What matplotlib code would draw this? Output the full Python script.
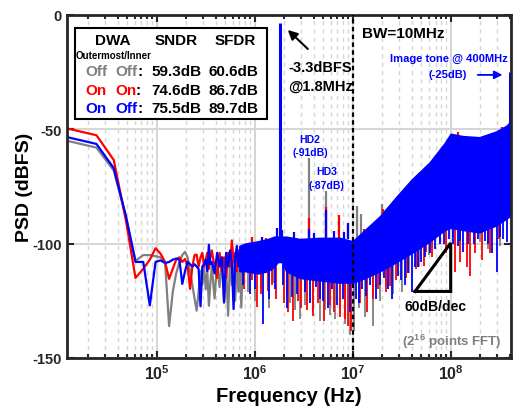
import matplotlib
matplotlib.use("Agg")
import matplotlib.pyplot as plt
from matplotlib.patches import Rectangle
from matplotlib.ticker import LogLocator, NullFormatter

plt.rcParams["font.family"] = ["Liberation Sans", "DejaVu Sans"]
plt.rcParams["font.weight"] = "bold"
plt.rcParams["mathtext.fontset"] = "custom"
plt.rcParams["mathtext.rm"] = "Liberation Sans:bold"
plt.rcParams["mathtext.it"] = "Liberation Sans:bold"
plt.rcParams["mathtext.bf"] = "Liberation Sans:bold"
plt.rcParams["mathtext.default"] = "rm"

GRAY, RED, BLUE = "#808080", "#ff0000", "#0000ff"

# low-frequency FFT bins (kHz), shared by the three traces
f_low_khz = [12.2, 24.4, 36.6, 48.8, 61.0, 73.2, 85.4, 97.7, 109.9, 122.1,
             134.3, 146.5, 158.7, 170.9, 183.1, 195.3, 207.5, 219.7, 231.9, 244.1,
             256.3, 268.6, 280.8, 293.0, 305.2, 317.4, 329.6, 341.8, 354.0, 366.2,
             390.6, 415.0, 439.5, 463.9, 488.3, 512.7, 537.1, 561.5, 585.9, 610.4,
             634.8, 659.2, 683.6, 708.0, 732.4, 756.8]
gray_low = [-55.0, -58.0, -68.0, -88.5, -107.5, -105.0, -105.0, -105.5, -106.0, -108.0,
            -136.0, -121.0, -113.0, -108.0, -105.0, -103.6, -106.0, -112.0, -118.0, -124.0,
            -129.3, -121.0, -112.0, -118.0, -110.0, -120.0, -112.0, -127.2, -117.0, -110.0,
            -124.0, -108.0, -119.0, -106.0, -126.0, -111.0, -131.5, -107.0, -118.0, -108.0,
            -125.0, -106.0, -121.0, -110.0, -128.0, -108.0]
red_low = [-49.6, -52.6, -63.4, -90.0, -115.0, -111.0, -107.0, -102.0, -104.4, -108.0,
           -115.4, -111.0, -107.0, -106.0, -108.0, -106.7, -110.0, -119.8, -110.0, -105.0,
           -104.8, -110.0, -106.0, -104.0, -110.0, -107.0, -104.0, -111.0, -106.0, -103.0,
           -110.0, -115.0, -104.0, -112.0, -106.0, -115.0, -104.0, -110.0, -98.6, -108.0,
           -104.0, -112.0, -103.0, -109.0, -105.0, -111.0]
blue_low = [-53.4, -56.4, -67.0, -88.0, -108.0, -108.0, -127.0, -108.0, -107.3, -108.5,
            -108.0, -107.0, -106.5, -107.0, -117.6, -112.0, -108.0, -109.0, -110.0, -109.0,
            -110.0, -111.0, -127.4, -110.0, -109.0, -107.0, -112.0, -100.5, -109.0, -108.0,
            -113.0, -104.0, -110.0, -106.0, -125.5, -104.0, -110.0, -103.0, -108.0, -128.6,
            -106.0, -101.0, -110.0, -104.0, -112.0, -103.0]

# dense noise floor above ~700 kHz (MHz, top / bottom of the solid blue band)
body_mhz = [0.70, 0.80, 1.08, 1.37, 1.58, 1.72, 1.90, 2.10, 2.9, 4.6, 7.4, 10,
            13.4, 19, 28, 40, 61, 87, 100, 133, 196, 290, 370, 400]
body_top = [-101, -100, -99, -98, -97, -97, -97, -97, -98, -97.5, -97.5, -99,
            -94, -88, -79.5, -72, -64.5, -56, -52, -53, -53.5, -51, -48.5, -47]
body_bot = [-112, -112, -113, -112, -110, -108, -108, -112, -115, -116, -117, -117,
            -115, -112, -108, -104, -99, -94, -93, -94, -95, -92, -89, -88]

# downward noise spikes (MHz, from dB, to dB)
gray_spk_mhz = [0.75, 0.85, 1.00, 1.15, 1.40, 1.55, 2.12, 2.3, 2.6, 2.9, 3.3, 3.9, 4.63, 5.2,
                5.9, 6.6, 7.5, 8.4, 9.3, 10.4, 11.5, 13.5, 16.2, 19, 22, 26, 31.5, 38, 48,
                60, 106, 197, 242, 320]
gray_spk_hi = [-108, -108, -108, -108, -108, -106, -108, -110, -110, -110, -110, -110, -110, -110,
               -110, -110, -110, -110, -110, -110, -110, -110, -108, -106, -104, -102, -100, -98, -96,
               -94, -90, -90, -90, -88]
gray_spk_lo = [-118, -121, -125, -119, -128, -117, -122.8, -126, -129, -133, -127, -130, -133.7, -129,
               -131, -133, -128, -135, -140, -138, -128, -132, -136, -125, -118, -122, -121, -113, -110,
               -105, -97, -99.4, -102.3, -101]

red_spk_mhz = [0.78, 0.93, 1.05, 1.15, 1.37, 1.5, 1.67, 2.0, 2.2, 2.47, 2.8, 3.0, 3.4, 3.96, 4.4,
               5.1, 5.85, 6.5, 7.5, 8.3, 9.0, 9.6, 11.8, 14, 16, 18.3, 22, 24, 28, 35, 44, 53, 56,
               65, 78, 90, 110, 124, 145, 157, 175, 210, 250, 310]
red_spk_hi = [-108, -108, -108, -108, -106, -106, -102, -104, -110, -110, -110, -110, -110, -110, -110,
              -110, -110, -110, -110, -110, -110, -110, -110, -110, -108, -106, -104, -104, -102, -100,
              -98, -96, -96, -94, -92, -90, -90, -90, -90, -90, -90, -90, -90, -88]
red_spk_lo = [-120, -116, -127.9, -122, -120.6, -118, -124, -126, -130, -133.7, -125, -128, -129,
              -131.5, -126, -134, -127, -130, -132, -133, -136, -138, -126, -130, -124, -119.8, -121,
              -118.4, -116, -115, -111, -109.7, -103.8, -106, -99.4, -104, -112.5, -108, -110, -114,
              -104, -107, -104, -98]

blue_spk_mhz = [0.76, 0.895, 1.0, 1.22, 1.4, 1.6, 1.96, 2.15, 2.38, 2.7, 3.3, 3.7, 4.2, 4.6, 5.0,
                5.6, 6.2, 7.0, 8.0, 9.4, 10.8, 11.5, 12.4, 13.8, 15.0, 17.3, 19, 20.9, 23, 25.2,
                29.0, 31, 34.2, 37, 40.3, 43, 46.4, 50, 54.7, 62, 69.2, 77, 85.5, 95, 105, 119,
                125, 134, 150, 173, 190, 224, 240, 264, 297, 320, 342, 376]
blue_spk_hi = [-108, -108, -108, -108, -108, -106, -104, -110, -110, -110, -110, -110, -110, -110,
               -110, -110, -110, -110, -110, -110, -110, -110, -110, -110, -108, -106, -106, -104,
               -104, -102, -100, -100, -98, -98, -96, -96, -94, -94, -92, -92, -90, -90, -90, -90,
               -90, -90, -90, -90, -90, -90, -90, -90, -90, -88, -88, -88, -86, -86]
blue_spk_lo = [-118, -122, -120, -135.2, -124, -120, -118, -128, -123.5, -122, -121, -126, -119,
               -124, -125, -128, -120, -127, -124, -130, -124, -126, -120, -123, -118, -124, -118,
               -115, -120, -124, -114, -116, -118, -113, -121.3, -110, -110, -108, -106, -104,
               -102.3, -100, -100, -98, -100, -101, -99, -103.8, -100, -100, -98, -99, -100, -104,
               -112.5, -97, -98, -99.4]

# upward spurs / harmonics / skirt (MHz, base dB, peak dB)
gray_up_mhz = [3.6, 5.4, 9.0, 11.0, 12.3, 19.7]
gray_up_lo = [-98, -98, -98, -98, -96, -90]
gray_up_hi = [-62.7, -76.8, -92, -83.4, -87, -82.7]
red_up_mhz = [0.95, 1.3, 3.6, 5.4, 7.3, 13, 20.5, 120, 330]
red_up_lo = [-101, -100, -98, -98, -98, -95, -90, -54, -52]
red_up_hi = [-97, -97.5, -89, -84, -87.5, -93.5, -85, -51, -49]
blue_up_mhz = [1.2, 1.7, 1.92, 2.5, 3.6, 4.0, 5.4, 6.5, 8.2, 9.0]
blue_up_lo = [-101, -98, -98, -98, -98, -98, -98, -98, -98, -98]
blue_up_hi = [-97, -93, -94, -95, -93.6, -95.5, -85.5, -94.5, -95, -91]

tone_mhz = [1.8, 400]
tone_db = [-3.3, -25]

fig = plt.figure(figsize=(5.16, 4.14), dpi=100)
ax = fig.add_axes([0.1298, 0.1329, 0.8605, 0.8285])

lw = 1.6
slw = 1.3
ax.plot([f * 1e3 for f in f_low_khz], gray_low, color=GRAY, lw=lw, zorder=2)
ax.vlines([f * 1e6 for f in gray_spk_mhz], gray_spk_lo, gray_spk_hi, color=GRAY, lw=slw, zorder=2)
ax.vlines([f * 1e6 for f in gray_up_mhz], gray_up_lo, gray_up_hi, color=GRAY, lw=lw, zorder=2)

ax.plot([f * 1e3 for f in f_low_khz], red_low, color=RED, lw=lw, zorder=2.1)
ax.vlines([f * 1e6 for f in red_spk_mhz], red_spk_lo, red_spk_hi, color=RED, lw=slw, zorder=2.1)
ax.vlines([f * 1e6 for f in red_up_mhz], red_up_lo, red_up_hi, color=RED, lw=lw, zorder=2.1)

ax.plot([f * 1e3 for f in f_low_khz], blue_low, color=BLUE, lw=lw, zorder=2.2)
body_hz = [f * 1e6 for f in body_mhz]
ax.fill_between(body_hz, body_bot, body_top, color=BLUE, lw=1.2, zorder=2.2)
ax.vlines([f * 1e6 for f in blue_spk_mhz], blue_spk_lo, blue_spk_hi, color=BLUE, lw=slw, zorder=2.2)
ax.vlines([f * 1e6 for f in blue_up_mhz], blue_up_lo, blue_up_hi, color=BLUE, lw=lw, zorder=2.2)
ax.vlines([f * 1e6 for f in tone_mhz], [-98, -50], tone_db, color=BLUE, lw=2.2, zorder=2.3)

# BW marker
ax.axvline(1e7, color="black", lw=1.6, ls=(0, (2, 1.5)), zorder=3)

ax.set_xscale("log")
ax.set_xlim(1.2207e4, 4.12e8)
ax.set_ylim(-150, 0)
ax.set_xticks([1e5, 1e6, 1e7, 1e8])
ax.set_xticklabels([r"$10^{5}$", r"$10^{6}$", r"$10^{7}$", r"$10^{8}$"])
ax.xaxis.set_minor_locator(LogLocator(base=10, subs=range(2, 10), numticks=20))
ax.xaxis.set_minor_formatter(NullFormatter())
ax.set_yticks([0, -50, -100, -150])
ax.set_yticklabels(["0", "-50", "-100", "-150"])

ax.set_axisbelow(True)
ax.grid(which="major", color="#d6d6d6", lw=1.5, ls="-")
ax.grid(which="minor", axis="x", color="#d6d6d6", lw=1.0, ls=(0, (3, 3)))
ax.tick_params(which="both", direction="in", top=True, right=True, width=1.5,
               labelsize=10.5, colors="#262626")
ax.tick_params(axis="x", which="major", labelsize=11.5)
ax.tick_params(which="major", length=5)
ax.tick_params(which="minor", length=3)
for s in ax.spines.values():
    s.set_linewidth(2)
    s.set_color("#262626")

ax.set_xlabel("Frequency (Hz)", fontsize=14.5, fontweight="bold", labelpad=3)
ax.set_ylabel("PSD (dBFS)", fontsize=14, fontweight="bold", labelpad=0)

# settings box
ax.add_patch(Rectangle((0.018, 0.697), 0.4325, 0.265, transform=ax.transAxes,
                       fc="white", ec="black", lw=1.5, zorder=5))
T = ax.transAxes
kw = dict(transform=T, fontsize=11, fontweight="bold", va="center", zorder=6)
ax.text(0.1025, 0.9277, "DWA", ha="center", **kw)
ax.text(0.2466, 0.9277, "SNDR", ha="center", **kw)
ax.text(0.3784, 0.9277, "SFDR", ha="center", **kw)
ax.text(0.1059, 0.8834, "Outermost/Inner", ha="center", transform=T, fontsize=7,
        fontweight="bold", va="center", zorder=6)
rows = [
    (0.8353, GRAY, "Off", "Off", 0.1595, "59.3dB", "60.6dB"),
    (0.7813, RED, "On", "On", 0.1545, "74.6dB", "86.7dB"),
    (0.7289, BLUE, "On", "Off", 0.1595, "75.5dB", "89.7dB"),
]
for y, c, outer, inner, xc, sndr, sfdr in rows:
    ax.text(0.0405, y, outer, color=c, ha="left", **kw)
    ax.text(0.1081, y, inner, color=c, ha="left", **kw)
    ax.text(xc, y, ":", ha="left", **kw)
    ax.text(0.2466, y, sndr, ha="center", **kw)
    ax.text(0.3754, y, sfdr, ha="center", **kw)

# annotations
ax.annotate("", xy=(2.08e6, -5.7), xytext=(3.66e6, -15.7),
            arrowprops=dict(arrowstyle="-|>", color="black", lw=1.5, mutation_scale=14), zorder=6)
ax.text(2.19e6, -22.7, "-3.3dBFS", fontsize=10.5, fontweight="bold", ha="left", va="center")
ax.text(2.19e6, -31.0, "@1.8MHz", fontsize=10.5, fontweight="bold", ha="left", va="center")
ax.text(1.24e7, -7.9, "BW=10MHz", fontsize=11, fontweight="bold", ha="left", va="center")
ax.text(9.5e7, -18.8, "Image tone @ 400MHz", fontsize=8, fontweight="bold", color=BLUE,
        ha="center", va="center")
ax.text(9.3e7, -25.8, "(-25dB)", fontsize=8, fontweight="bold", color=BLUE,
        ha="center", va="center")
ax.annotate("", xy=(3.6e8, -26.2), xytext=(1.77e8, -26.2),
            arrowprops=dict(arrowstyle="-|>", color=BLUE, lw=1.3, mutation_scale=12))
ax.text(3.67e6, -54.2, "HD2", fontsize=7.5, color=BLUE, ha="center", va="center")
ax.text(3.67e6, -59.9, "(-91dB)", fontsize=7.5, color=BLUE, ha="center", va="center")
ax.text(5.44e6, -68.1, "HD3", fontsize=7.5, color=BLUE, ha="center", va="center")
ax.text(5.44e6, -74.4, "(-87dB)", fontsize=7.5, color=BLUE, ha="center", va="center")

# 60 dB/dec slope triangle
ax.plot([4.33e7, 1.0e8, 1.0e8, 4.33e7], [-120.9, -99.7, -120.9, -120.9],
        color="black", lw=2.2, solid_joinstyle="miter", zorder=4)
ax.text(7.0e7, -127.4, "60dB/dec", fontsize=10, fontweight="bold", ha="center", va="center")
ax.text(1.02e8, -142.5, r"(2$^{16}$ points FFT)", fontsize=9.5, fontweight="bold",
        color="#7f7f7f", ha="center", va="center")

fig.savefig("out.png", dpi=100)
